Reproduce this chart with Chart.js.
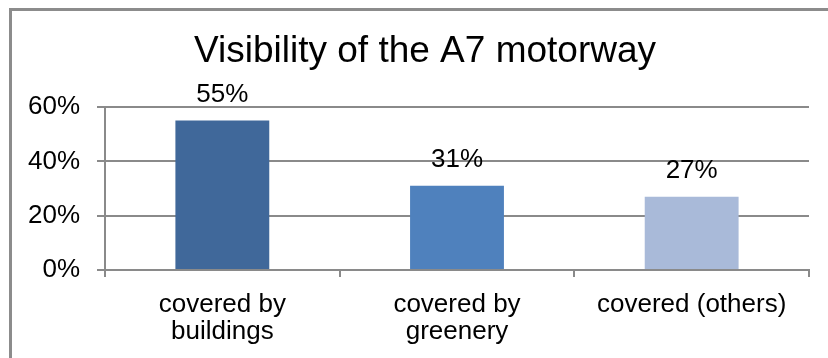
<!DOCTYPE html>
<html>
<head>
<meta charset="utf-8">
<script src="https://cdn.jsdelivr.net/npm/chart.js@4/dist/chart.umd.min.js"></script>
<style>
  html, body { margin: 0; padding: 0; background: #fff; overflow: hidden; }
  #wrap { position: relative; width: 828px; height: 358px; overflow: hidden; }
  #frame { position: absolute; left: 9px; top: 8px; width: 900px; height: 400px;
           border: 3px solid #8c8c8c; box-sizing: border-box; }
  canvas { position: absolute; left: 0; top: 0; }
</style>
</head>
<body>
<div id="wrap">
  <div id="frame"></div>
  <canvas id="chart" width="828" height="358"></canvas>
</div>
<script>
const categories = [['covered by', 'buildings'], ['covered by', 'greenery'], 'covered (others)'];
const shares = [55, 31, 27];
const barColors = ['#40689a', '#4f81bd', '#a9bad9'];
const yTicks = [0, 20, 40, 60];

const FONT = '"Liberation Sans", Arial, sans-serif';
const GRID = '#8a8a8a';

// percent labels above each bar
const valueLabels = {
  id: 'valueLabels',
  afterDatasetsDraw(chart) {
    const ctx = chart.ctx;
    const meta = chart.getDatasetMeta(0);
    ctx.save();
    ctx.font = '26px ' + FONT;
    ctx.fillStyle = '#000';
    ctx.textAlign = 'center';
    ctx.textBaseline = 'alphabetic';
    meta.data.forEach((bar, i) => {
      ctx.fillText(shares[i] + '%', bar.x, bar.y - 19);
    });
    ctx.restore();
  }
};

new Chart(document.getElementById('chart').getContext('2d'), {
  type: 'bar',
  data: {
    labels: categories,
    datasets: [{
      data: shares,
      backgroundColor: barColors,
      borderWidth: 0,
      categoryPercentage: 1,
      barPercentage: 0.4
    }]
  },
  options: {
    responsive: false,
    animation: false,
    layout: { padding: { left: 22, right: 0, top: 0, bottom: 0 } },
    plugins: {
      legend: { display: false },
      tooltip: { enabled: false },
      title: {
        display: true,
        text: 'Visibility of the A7 motorway',
        color: '#000',
        font: { family: FONT, size: 37, weight: 'normal', lineHeight: 1.2 },
        padding: { top: 30, bottom: 32.6 }
      }
    },
    scales: {
      x: {
        grid: { offset: true, drawOnChartArea: false, tickLength: 7, color: GRID, lineWidth: 2 },
        border: { color: GRID, width: 2 },
        ticks: { color: '#000', padding: 14, maxRotation: 0, font: { family: FONT, size: 26, lineHeight: 1.05 } },
        afterFit(scale) { scale.height = 88; }
      },
      y: {
        min: 0,
        max: 60,
        afterBuildTicks(scale) { scale.ticks = yTicks.map(v => ({ value: v })); },
        grid: { color: GRID, lineWidth: 2, tickLength: 8 },
        border: { color: GRID, width: 2 },
        ticks: {
          color: '#000',
          padding: 17,
          font: { family: FONT, size: 26 },
          callback: v => v + '%'
        },
        afterFit(scale) { scale.width = 83; }
      },
      // empty margin on the right of the plot
      gap: {
        position: 'right',
        grid: { display: false },
        border: { display: false },
        ticks: { display: false },
        afterFit(scale) { scale.width = 19; }
      }
    }
  },
  plugins: [valueLabels]
});
</script>
</body>
</html>
